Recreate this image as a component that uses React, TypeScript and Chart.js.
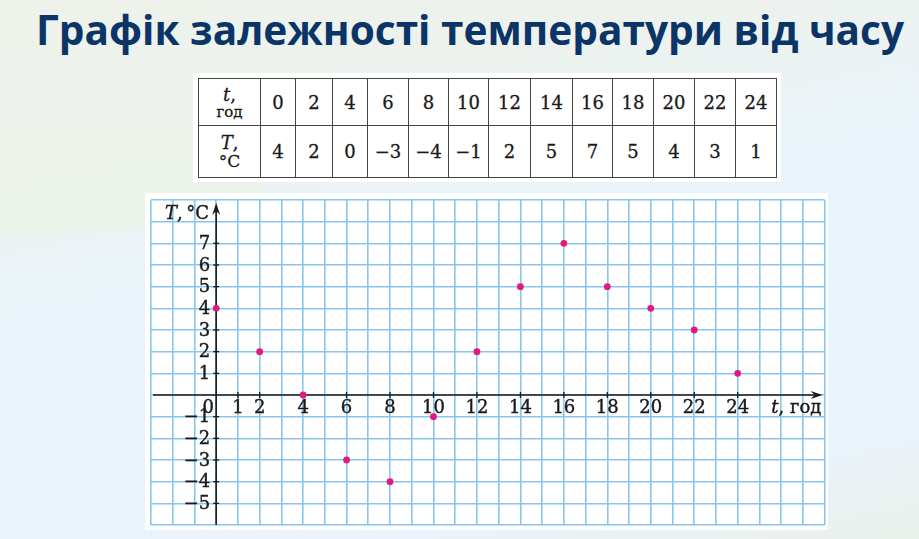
import React, { useEffect, useRef } from 'react';
import { Chart, registerables } from 'chart.js';

Chart.register(...registerables);

// ---- data ----
const hours = [0, 2, 4, 6, 8, 10, 12, 14, 16, 18, 20, 22, 24];
const temps = [4, 2, 0, -3, -4, -1, 2, 5, 7, 5, 4, 3, 1];
const xTickLabels = [1, 2, 4, 6, 8, 10, 12, 14, 16, 18, 20, 22, 24];
const yTickLabels = [7, 6, 5, 4, 3, 2, 1, -1, -2, -3, -4, -5];
const xMin = -3;
const xMax = 28;
const yMin = -6;
const yMax = 9;
const titleText = 'Графік залежності температури від часу';
const xUnit = 'год';
const yUnit = '°C';
const colWidths = [62, 35, 37, 35, 41, 40, 40, 42, 42, 40, 41, 41, 41, 41];

const fmt = (v: number) => (v < 0 ? '\u2212' + Math.abs(v) : String(v));

const SERIF = '"DejaVu Serif", "Liberation Serif", serif';

function heavyText(ctx: CanvasRenderingContext2D, s: string, x: number, y: number) {
  ctx.fillText(s, x, y);
  ctx.save();
  ctx.lineWidth = 0.4;
  ctx.strokeText(s, x, y);
  ctx.restore();
}

const axesPlugin = {
  id: 'customAxes',
  beforeDatasetsDraw(chart: any) {
    const { ctx, chartArea: ca } = chart;
    const xs = chart.scales.x;
    const ys = chart.scales.y;
    const x0 = xs.getPixelForValue(0);
    const y0 = ys.getPixelForValue(0);
    ctx.save();
    ctx.strokeStyle = '#1b1b1b';
    ctx.fillStyle = '#1b1b1b';
    ctx.lineWidth = 1.6;
    // x axis
    const xTip = ca.right - 2;
    ctx.beginPath();
    ctx.moveTo(ca.left + 2, y0);
    ctx.lineTo(xTip - 6, y0);
    ctx.stroke();
    ctx.beginPath();
    ctx.moveTo(xTip, y0);
    ctx.lineTo(xTip - 12, y0 - 4);
    ctx.lineTo(xTip - 8, y0);
    ctx.lineTo(xTip - 12, y0 + 4);
    ctx.closePath();
    ctx.fill();
    // y axis
    const yTip = ca.top + 3;
    ctx.beginPath();
    ctx.moveTo(x0, ca.bottom);
    ctx.lineTo(x0, yTip + 6);
    ctx.stroke();
    ctx.beginPath();
    ctx.moveTo(x0, yTip);
    ctx.lineTo(x0 - 4, yTip + 12);
    ctx.lineTo(x0, yTip + 8);
    ctx.lineTo(x0 + 4, yTip + 12);
    ctx.closePath();
    ctx.fill();

    ctx.lineWidth = 1.3;
    ctx.font = '18px ' + SERIF;
    // x ticks + labels
    ctx.textAlign = 'center';
    ctx.textBaseline = 'middle';
    xTickLabels.forEach((v) => {
      const px = xs.getPixelForValue(v);
      ctx.beginPath();
      ctx.moveTo(px, y0 - 3);
      ctx.lineTo(px, y0 + 3);
      ctx.stroke();
      heavyText(ctx, fmt(v), px, y0 + 13);
    });
    heavyText(ctx, '0', x0 - 8, y0 + 13);
    // y ticks + labels
    ctx.textAlign = 'right';
    yTickLabels.forEach((v) => {
      const py = ys.getPixelForValue(v);
      ctx.beginPath();
      ctx.moveTo(x0 - 3, py);
      ctx.lineTo(x0 + 3, py);
      ctx.stroke();
      heavyText(ctx, fmt(v), x0 - 6, py + 1);
    });
    // axis titles
    ctx.textAlign = 'left';
    const ty = ca.top + 14;
    let tx = ca.left + 14;
    ctx.font = 'italic 18px ' + SERIF;
    heavyText(ctx, 'T', tx, ty);
    tx += ctx.measureText('T').width;
    ctx.font = '18px ' + SERIF;
    heavyText(ctx, ',\u2009' + yUnit, tx, ty);

    let sx = xs.getPixelForValue(25.55);
    ctx.font = 'italic 18px ' + SERIF;
    heavyText(ctx, 't', sx, y0 + 13);
    sx += ctx.measureText('t').width;
    ctx.font = '18px ' + SERIF;
    heavyText(ctx, ', ' + xUnit, sx, y0 + 13);
    ctx.restore();
  },
};

function ChartPanel() {
  const ref = useRef<HTMLCanvasElement | null>(null);
  useEffect(() => {
    if (!ref.current) return;
    const chart = new Chart(ref.current, {
      type: 'scatter',
      data: {
        datasets: [
          {
            data: hours.map((h, i) => ({ x: h, y: temps[i] })),
            backgroundColor: '#e3197c',
            borderColor: '#e3197c',
            pointRadius: 3.4,
            pointHoverRadius: 3.4,
            borderWidth: 0,
          },
        ],
      },
      options: {
        animation: false,
        responsive: false,
        maintainAspectRatio: false,
        layout: { padding: { left: 6, right: 3, top: 7, bottom: 5 } },
        plugins: { legend: { display: false }, tooltip: { enabled: false } },
        scales: {
          x: {
            type: 'linear',
            min: xMin,
            max: xMax,
            ticks: { display: false, stepSize: 1 },
            grid: { color: '#86c6ef', lineWidth: 1.6, drawTicks: false },
            border: { display: false },
          },
          y: {
            type: 'linear',
            min: yMin,
            max: yMax,
            ticks: { display: false, stepSize: 1 },
            grid: { color: '#86c6ef', lineWidth: 1.6, drawTicks: false },
            border: { display: false },
          },
        },
      },
      plugins: [axesPlugin],
    });
    return () => chart.destroy();
  }, []);
  return (
    <canvas
      ref={ref}
      width={683}
      height={337}
      style={{ position: 'absolute', left: 145, top: 193, width: 683, height: 337, background: '#fff' }}
    />
  );
}

function Title() {
  const ref = useRef<HTMLSpanElement | null>(null);
  useEffect(() => {
    const el = ref.current;
    if (!el) return;
    const w = el.getBoundingClientRect().width;
    if (w > 0) el.style.transform = `scaleX(${868 / w})`;
  }, []);
  return (
    <span
      ref={ref}
      style={{
        position: 'absolute',
        left: 36,
        top: 1,
        whiteSpace: 'nowrap',
        display: 'inline-block',
        transformOrigin: '0 0',
        fontFamily: '"Open Sans", "Noto Sans", sans-serif',
        fontWeight: 700,
        fontSize: 42,
        lineHeight: '56px',
        color: '#0b3567',
      }}
    >
      {titleText}
    </span>
  );
}

function DataTable() {
  const cell: React.CSSProperties = {
    border: '1px solid #444',
    textAlign: 'center',
    verticalAlign: 'middle',
    padding: 0,
    fontFamily: SERIF,
    fontSize: 18,
    color: '#1a1a1a',
    WebkitTextStroke: '0.3px #1a1a1a',
  };
  return (
    <div style={{ position: 'absolute', left: 193, top: 73, width: 588, height: 109, background: '#fff' }}>
      <table
        style={{
          position: 'absolute',
          left: 5,
          top: 5,
          borderCollapse: 'collapse',
          tableLayout: 'fixed',
          width: 578,
          border: '1.5px solid #222',
        }}
      >
        <colgroup>
          {colWidths.map((w, i) => (
            <col key={i} style={{ width: w }} />
          ))}
        </colgroup>
        <tbody>
          <tr style={{ height: 47 }}>
            <td style={cell}>
              <div style={{ lineHeight: '19px' }}>
                <i>t</i>,
              </div>
              <div style={{ lineHeight: '16px', fontSize: 15 }}>{xUnit}</div>
            </td>
            {hours.map((h, i) => (
              <td key={i} style={cell}>
                {fmt(h)}
              </td>
            ))}
          </tr>
          <tr style={{ height: 52 }}>
            <td style={cell}>
              <div style={{ lineHeight: '19px' }}>
                <i>T</i>,
              </div>
              <div style={{ lineHeight: '19px', fontSize: 17 }}>{yUnit}</div>
            </td>
            {temps.map((t, i) => (
              <td key={i} style={cell}>
                {fmt(t)}
              </td>
            ))}
          </tr>
        </tbody>
      </table>
    </div>
  );
}

export default function App() {
  return (
    <div
      style={{
        position: 'fixed',
        left: 0,
        top: 0,
        width: 919,
        height: 539,
        overflow: 'hidden',
        background:
          'linear-gradient(168deg, #eef2ea 0%, #edf2ee 22%, #eaf3f8 40%, #e9f3fc 60%, #eaf3fb 85%, #eaf0ea 100%)',
      }}
    >
      <div
        style={{
          position: 'absolute',
          left: -40,
          top: 120,
          width: 300,
          height: 110,
          background: 'rgba(236,242,232,0.8)',
          transform: 'rotate(-4deg)',
        }}
      />
      <Title />
      <DataTable />
      <ChartPanel />
    </div>
  );
}
